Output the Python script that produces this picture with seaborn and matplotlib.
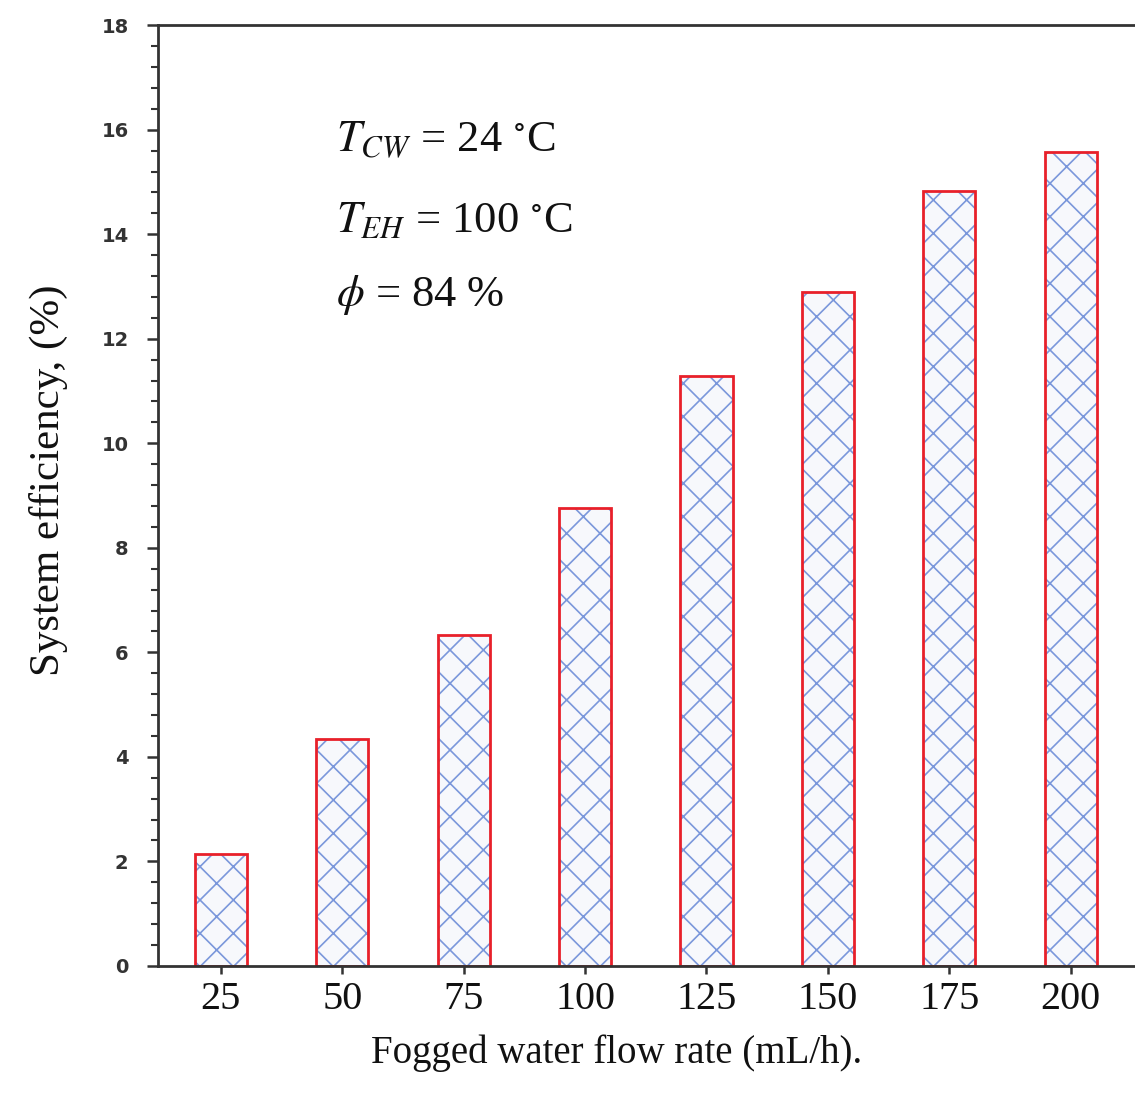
import matplotlib
matplotlib.use("Agg")
import matplotlib.pyplot as plt
import seaborn as sns
import pandas as pd
from matplotlib.ticker import MultipleLocator

flow_rates = ["25", "50", "75", "100", "125", "150", "175", "200"]
efficiency = [2.14, 4.34, 6.33, 8.76, 11.28, 12.89, 14.82, 15.58]
y_ticks = [0, 2, 4, 6, 8, 10, 12, 14, 16, 18]
annotations = [r"$T_{CW}$ = 24 $^{\circ}$C", r"$T_{EH}$ = 100 $^{\circ}$C", r"$\phi$ = 84 %"]

sns.set_theme(style="white")
plt.rcParams["font.family"] = ["Liberation Serif", "DejaVu Serif"]
plt.rcParams["mathtext.fontset"] = "stix"
plt.rcParams["hatch.linewidth"] = 1.2

df = pd.DataFrame({"flow": flow_rates, "eff": efficiency})

fig = plt.figure(figsize=(11.35, 11.0), dpi=100)
ax = fig.add_axes([0.139, 0.122, 0.861, 0.855])

sns.barplot(data=df, x="flow", y="eff", ax=ax, color="#f6f8fd", width=0.43,
            edgecolor="#7b97db", linewidth=0, hatch="x")
sns.barplot(data=df, x="flow", y="eff", ax=ax, color="#e8202a", width=0.43,
            fill=False, linewidth=2.0)

ax.set_xlim(-0.52, 7.53)
ax.set_ylim(0, 18)
ax.set_yticks(y_ticks)
ax.yaxis.set_minor_locator(MultipleLocator(0.4))
ax.set_yticklabels([str(t) for t in y_ticks], family="DejaVu Sans", fontweight="bold",
                   fontsize=14, color="#333333")
ax.set_xticks(range(len(flow_rates)))
ax.set_xticklabels(flow_rates, fontsize=29, color="#111111")

ax.tick_params(axis="y", which="major", direction="out", length=8, width=1.8,
               left=True, color="#333333", pad=13)
ax.tick_params(axis="y", which="minor", direction="out", length=5, width=1.5,
               left=True, color="#333333")
ax.tick_params(axis="x", which="major", direction="out", length=6, width=1.8,
               bottom=True, color="#333333", pad=5)

for side in ["left", "bottom", "top"]:
    ax.spines[side].set_visible(True)
    ax.spines[side].set_linewidth(2.0)
    ax.spines[side].set_color("#333333")
ax.spines["right"].set_visible(False)

ax.set_xlabel("Fogged water flow rate (mL/h).", fontsize=28, color="#111111")
ax.set_ylabel("System efficiency, (%)", fontsize=31, color="#111111")
ax.xaxis.set_label_coords(0.47, -0.073)
ax.yaxis.set_label_coords(-0.092, 0.516)

for txt, yv in zip(annotations, [15.8, 14.26, 12.83]):
    ax.text(0.95, yv, txt, fontsize=32, ha="left", va="center", color="#111111")

fig.savefig("out.png", dpi=100)
